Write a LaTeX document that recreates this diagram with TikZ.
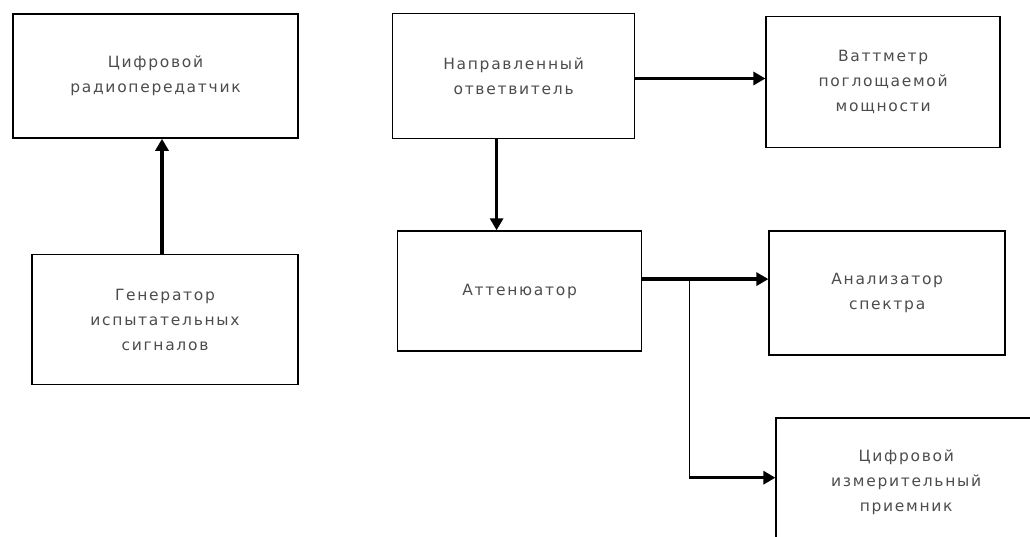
\documentclass[tikz,border=0pt]{standalone}
\usepackage{fontspec}
\usetikzlibrary{positioning,arrows.meta}
\newfontfamily\lbl[LetterSpace=11]{DejaVu Sans}
\begin{document}
\begin{tikzpicture}[
  x=1pt, y=-1pt,
  block/.style={rectangle, draw, line width=1.6pt, minimum width=240pt, minimum height=124pt, align=center, text=black!70, font=\lbl\fontsize{15.5pt}{25pt}\selectfont},
  link/.style={line width=3.5pt, -{Triangle[length=12pt,width=13pt]}}
]
  \clip (0,0) rectangle (1030,537);
  \node[block, minimum width=285pt] (tx) at (155.5,76) {Цифровой\\радиопередатчик};
  \node[block, minimum width=266pt, minimum height=130pt, below=115pt of tx, xshift=9.5pt] (gen) {Генератор\\испытательных\\сигналов};
  \node[block, minimum width=242pt, minimum height=125pt, right=93pt of tx] (coupler) {Направленный\\ответвитель};
  \node[block, minimum width=234pt, minimum height=131pt, right=130pt of coupler, yshift=-6pt] (watt) {Ваттметр\\поглощаемой\\мощности};
  \node[block, minimum width=244pt, minimum height=120pt, below=91pt of coupler, xshift=6pt] (att) {Аттенюатор};
  \node[block, minimum width=236pt, right=126pt of att, yshift=-2pt] (spec) {Анализатор\\спектра};
  \node[block, minimum width=260pt, minimum height=130pt, below=61pt of spec, xshift=19pt] (rx) {Цифровой\\измерительный\\приемник};

  \coordinate (genout) at ([xshift=-3pt]gen.north);
  \coordinate (cplout) at ([yshift=-2.5pt]coupler.east);
  \coordinate (cpldown) at ([xshift=-17pt]coupler.south);
  \coordinate (attout) at ([yshift=12pt]att.east);
  \coordinate (split) at ([xshift=47pt]attout);
  \coordinate (rxin) at ([yshift=5pt]rx.west);

  \draw[link] (genout) -- (genout |- tx.south);
  \draw[link] (cplout) -- (cplout -| watt.west);
  \draw[link] (cpldown) -- (cpldown |- att.north);
  \draw[link] (attout) -- (attout -| spec.west);
  \draw[line width=1.6pt] (split) -- (split |- rxin);
  \draw[link] (split |- rxin) -- (rxin);
\end{tikzpicture}
\end{document}
